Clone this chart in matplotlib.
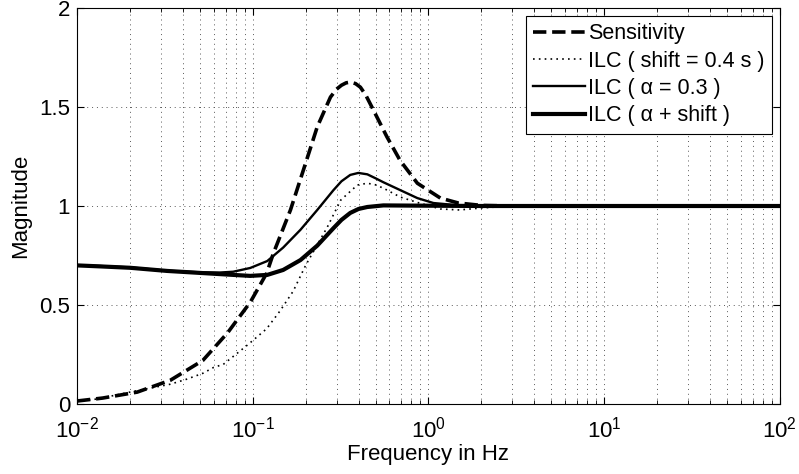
import numpy as np
import matplotlib
matplotlib.use("Agg")
import matplotlib.pyplot as plt
from matplotlib.ticker import LogLocator, NullFormatter

plt.rcParams.update({
    "font.family": ["Liberation Sans", "DejaVu Sans"],
    "font.size": 16,
    "xtick.direction": "in",
    "ytick.direction": "in",
    "xtick.top": True,
    "ytick.right": True,
})

# ── data ────────────────────────────────────────────────────────────────────
f_sens = [0.01, 0.014, 0.022, 0.034, 0.052, 0.072, 0.097, 0.12, 0.131, 0.164,
          0.194, 0.233, 0.277, 0.30, 0.32, 0.34, 0.36, 0.385, 0.41, 0.44,
          0.486, 0.58, 0.69, 0.865, 1.17, 1.48, 2.0, 3.0, 10.0, 100.0]
m_sens = [0.015, 0.03, 0.06, 0.12, 0.22, 0.36, 0.515, 0.66, 0.76, 0.98,
          1.18, 1.40, 1.55, 1.59, 1.61, 1.622, 1.626, 1.618, 1.60, 1.56,
          1.485, 1.35, 1.23, 1.115, 1.04, 1.015, 1.003, 1.0, 1.0, 1.0]

f_shift = [0.01, 0.013, 0.02, 0.034, 0.042, 0.052, 0.06, 0.068, 0.094, 0.12,
           0.143, 0.17, 0.2, 0.266, 0.317, 0.394, 0.449, 0.50, 0.554, 0.692,
           0.865, 1.17, 1.5, 2.0, 3.0, 100.0]
m_shift = [0.015, 0.025, 0.06, 0.10, 0.125, 0.155, 0.185, 0.20, 0.30, 0.38,
           0.47, 0.57, 0.70, 0.894, 1.03, 1.106, 1.115, 1.107, 1.09, 1.045,
           1.018, 0.985, 0.98, 0.99, 1.0, 1.0]

f_alpha = [0.01, 0.0135, 0.02, 0.0326, 0.0502, 0.065, 0.0774, 0.0968, 0.121,
           0.149, 0.187, 0.233, 0.288, 0.32, 0.359, 0.399, 0.449, 0.50, 0.554,
           0.692, 0.865, 1.068, 1.5, 2.0, 100.0]
m_alpha = [0.70, 0.697, 0.69, 0.673, 0.665, 0.664, 0.668, 0.687, 0.722,
           0.79, 0.88, 0.98, 1.08, 1.125, 1.157, 1.167, 1.16, 1.14, 1.12,
           1.08, 1.04, 1.015, 1.003, 1.0, 1.0]

f_both = [0.01, 0.0135, 0.02, 0.0326, 0.0502, 0.0774, 0.0968, 0.121, 0.149,
          0.187, 0.233, 0.288, 0.32, 0.359, 0.40, 0.449, 0.554, 0.8, 2.0, 100.0]
m_both = [0.70, 0.695, 0.688, 0.672, 0.662, 0.652, 0.647, 0.652, 0.677,
          0.727, 0.80, 0.888, 0.93, 0.965, 0.985, 0.995, 1.003, 1.002, 1.0, 1.0]

labels = ["Sensitivity", "ILC ( shift = 0.4 s )", "ILC ( α = 0.3 )",
          "ILC ( α + shift )"]

# ── figure ──────────────────────────────────────────────────────────────────
fig = plt.figure(figsize=(7.99, 4.74), dpi=100)
ax = fig.add_axes([0.0964, 0.1477, 0.8796, 0.8354])

ax.semilogx(f_sens, m_sens, "k--", lw=2.6, label=labels[0])
ax.semilogx(f_shift, m_shift, color="k", ls=(0, (1, 2.5)), lw=1.2, label=labels[1])
ax.semilogx(f_alpha, m_alpha, "k-", lw=1.7, label=labels[2])
ax.semilogx(f_both, m_both, "k-", lw=3.0, label=labels[3])

ax.set_xlim(1e-2, 1e2)
ax.set_ylim(0, 2)
ax.set_yticks([0, 0.5, 1, 1.5, 2])
ax.set_yticklabels(["0", "0.5", "1", "1.5", "2"])
ax.xaxis.set_major_locator(LogLocator(base=10, numticks=10))
ax.xaxis.set_minor_locator(LogLocator(base=10, subs=np.arange(2, 10), numticks=100))
ax.xaxis.set_minor_formatter(NullFormatter())
ax.tick_params(which="major", length=5, width=0.8)
ax.tick_params(axis="x", which="major", pad=9)
ax.tick_params(axis="y", which="major", pad=5)
ax.tick_params(which="minor", length=3, width=0.6)

gkw = dict(color="0.35", ls=(0, (1, 4)), lw=0.7)
ax.grid(True, which="major", **gkw)
ax.grid(True, which="minor", axis="x", **gkw)

ax.set_xlabel("Frequency in Hz", labelpad=1)
ax.set_ylabel("Magnitude", labelpad=6)

leg = ax.legend(loc="upper right", fancybox=False, framealpha=1,
                edgecolor="k", fontsize=15.5, handlelength=2.4,
                handletextpad=0.15, labelspacing=0.3, borderpad=0.35,
                borderaxespad=0.35)
leg.get_frame().set_linewidth(0.8)

fig.savefig("out.png", dpi=100)
